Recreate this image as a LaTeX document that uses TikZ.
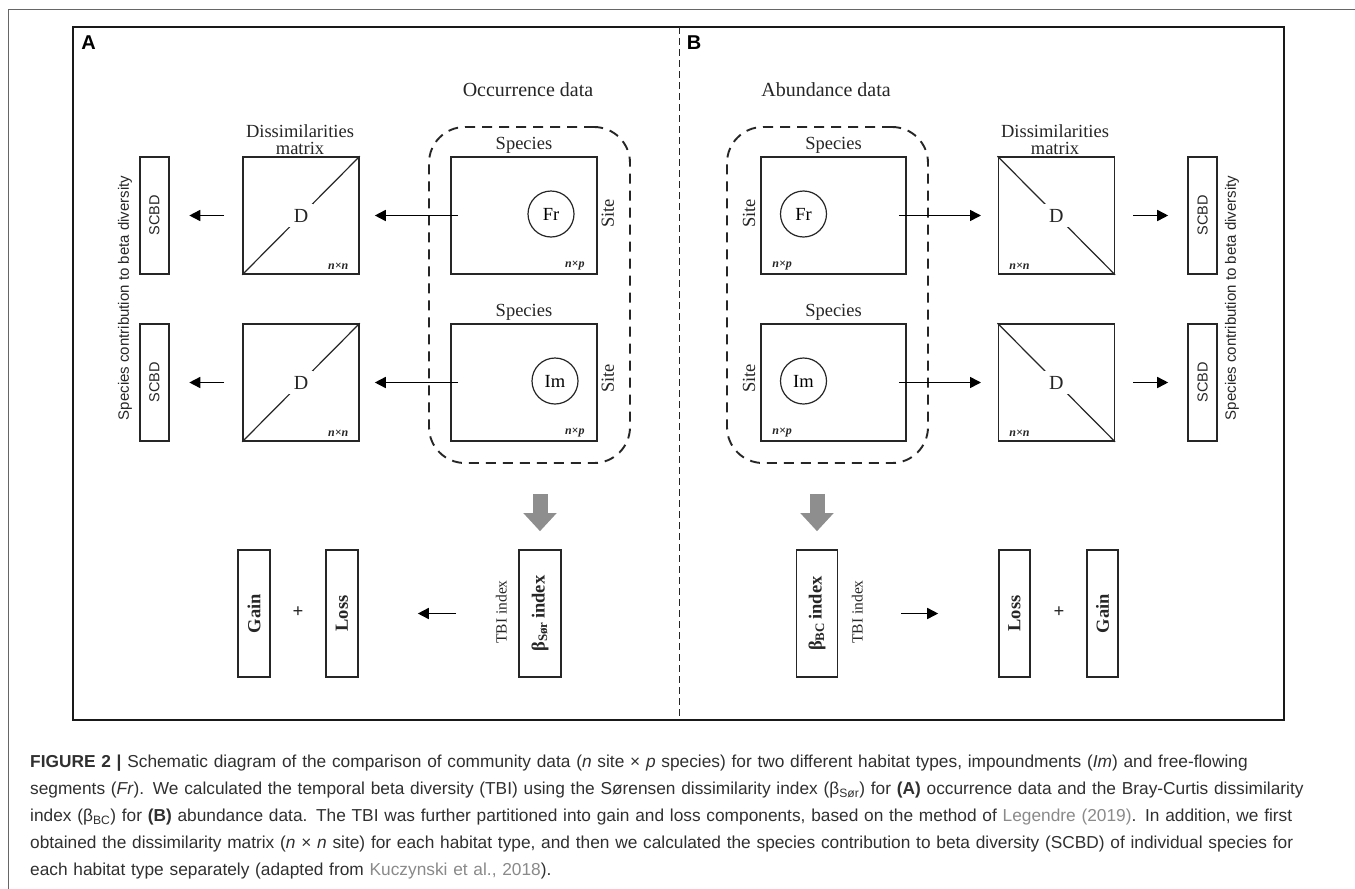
\documentclass[tikz,border=0pt]{standalone}
\usepackage{fontspec}
\setmainfont{Liberation Serif}
\setsansfont{Liberation Sans}
\usetikzlibrary{arrows.meta}
\definecolor{linec}{HTML}{262626}
\definecolor{greyarr}{HTML}{8E8E8E}
\definecolor{captxt}{HTML}{303030}
\definecolor{linkc}{HTML}{8A8A8A}
\begin{document}
\begin{tikzpicture}[x=1pt,y=-1pt,
  mbox/.style={draw=linec, line width=1.6pt, inner sep=0pt, fill=white},
  sqbox/.style={mbox, minimum width=116pt, minimum height=117pt},
  spbox/.style={mbox, minimum width=146pt, minimum height=117pt},
  scbox/.style={mbox, minimum width=29pt, minimum height=117pt},
  tallbox/.style={mbox, minimum height=127pt},
  dashbox/.style={draw=linec, line width=1.9pt, dash pattern=on 10pt off 7pt, rounded corners=36pt, minimum width=201pt, minimum height=336pt, inner sep=0pt},
  circ/.style={draw=linec, line width=1.2pt, circle, minimum size=46pt, inner sep=0pt, font=\fontsize{18.5}{20}\selectfont},
  lab/.style={inner sep=0pt, font=\fontsize{18.5}{20}\selectfont, text=linec},
  titlab/.style={lab, font=\fontsize{20}{20}\selectfont},
  rlab/.style={lab, rotate=90},
  blab/.style={inner sep=0pt, rotate=90, font=\fontsize{18.5}{20}\selectfont\bfseries, text=linec},
  tbi/.style={inner sep=0pt, rotate=90, font=\fontsize{15.5}{16}\selectfont, text=linec},
  sclab/.style={inner sep=0pt, rotate=90, font=\sffamily\fontsize{14.5}{15}\selectfont, text=linec},
  contrib/.style={inner sep=0pt, rotate=90, font=\sffamily\fontsize{15}{16}\selectfont, text=linec},
  dims/.style={inner sep=0pt, font=\fontsize{12}{12}\selectfont\bfseries\itshape, text=linec},
  dlab/.style={lab, fill=white, inner sep=5pt, font=\fontsize{20}{20}\selectfont},
  diag/.style={draw=linec, line width=1.2pt},
  arr/.style={draw=black, line width=1.6pt, -{Triangle[length=11pt,width=11pt]}},
  blockarr/.style={draw=greyarr, line width=15pt, -{Triangle[length=18pt,width=32pt]}},
  panel/.style={inner sep=0pt, font=\sffamily\bfseries\fontsize{20}{20}\selectfont},
  frame/.style={draw=black!90, line width=1.6pt},
  divider/.style={draw=black!85, line width=1pt, dash pattern=on 7pt off 4pt},
  outer/.style={draw=black!60, line width=1pt}
]
\useasboundingbox (0,0) rectangle (1355,889);
\fill[white] (0,0) rectangle (1355,889);
% frames
\draw[outer] (1355,9) -- (8,9) -- (8,889);
\draw[frame] (73,27) rectangle (1284,720);
\draw[divider] (679,27) -- (679,720);
\node[panel] (pA) at (88.6,43) {A};
\node[panel] (pB) at (694,43) {B};

% ================= Panel A =================
\node[titlab] (occ) at (528,90) {Occurrence data};
\node[dashbox] (oA) at (529.5,295) {};
\node[spbox] (sA1) at (524,215.5) {};
\node[spbox] (sA2) at (524,382.5) {};
\node[lab] (spA1) at ([yshift=11pt]sA1.north) {Species};
\node[lab] (spA2) at ([yshift=11pt]sA2.north) {Species};
\node[rlab] (siA1) at ([xshift=10pt,yshift=2pt]sA1.east) {Site};
\node[rlab] (siA2) at ([xshift=10pt,yshift=4pt]sA2.east) {Site};
\node[circ] (frA) at ([xshift=27pt,yshift=1.5pt]sA1.center) {Fr};
\node[circ] (imA) at ([xshift=31pt,yshift=1.5pt]sA2.center) {Im};
\node[dims] (npA1) at ([xshift=-23pt,yshift=9pt]sA1.south east) {n×p};
\node[dims] (npA2) at ([xshift=-23pt,yshift=9pt]sA2.south east) {n×p};

\node[lab, align=center, font=\fontsize{18.5}{17}\selectfont] (dmA) at (300,139.5) {Dissimilarities\\matrix};
\node[sqbox] (dA1) at (301,215.5) {};
\node[sqbox] (dA2) at (301,382.5) {};
\draw[diag] (dA1.south west) -- (dA1.north east);
\draw[diag] (dA2.south west) -- (dA2.north east);
\node[dlab] (DA1) at (dA1.center) {D};
\node[dlab] (DA2) at (dA2.center) {D};
\node[dims] (nnA1) at ([xshift=-21.5pt,yshift=9pt]dA1.south east) {n×n};
\node[dims] (nnA2) at ([xshift=-21.5pt,yshift=9pt]dA2.south east) {n×n};

\node[scbox] (cA1) at (154.5,215.5) {};
\node[scbox] (cA2) at (154.5,382.5) {};
\node[sclab] at (cA1.center) {SCBD};
\node[sclab] at (cA2.center) {SCBD};
\node[contrib] (ctA) at (125,298) {Species contribution to beta diversity};

\draw[arr, shorten <=-8pt, shorten >=15pt] (sA1.west) -- (dA1.east);
\draw[arr, shorten <=-8pt, shorten >=15pt] (sA2.west) -- (dA2.east);
\draw[arr, shorten <=18pt, shorten >=19.5pt] (dA1.west) -- (cA1.east);
\draw[arr, shorten <=18pt, shorten >=19.5pt] (dA2.west) -- (cA2.east);

\node[tallbox, minimum width=42pt] (bA) at (540,613.5) {};
\node[blab] at (bA.center) {β\textsubscript{Sør}\,index};
\node[tbi] (tA) at ([xshift=-17pt,yshift=1.5pt]bA.west) {TBI index};
\node[tallbox, minimum width=32pt] (gA) at (254,613.5) {};
\node[tallbox, minimum width=32pt] (lA) at (342,613.5) {};
\node[blab] at (gA.center) {Gain};
\node[blab] at (lA.center) {Loss};
\node[lab, font=\fontsize{19}{19}\selectfont\bfseries] (plA) at (298,612) {+};
\draw[arr, shorten <=62pt, shorten >=59pt] (bA.west) -- (lA.east);
\draw[blockarr, shorten <=30pt, shorten >=18pt] (oA.south -| bA.north) -- (bA.north);

% ================= Panel B =================
\node[titlab] (abu) at (826,90) {Abundance data};
\node[dashbox] (oB) at (827.5,295) {};
\node[spbox, minimum width=145pt] (sB1) at (833.5,215.5) {};
\node[spbox, minimum width=145pt] (sB2) at (833.5,382.5) {};
\node[lab] (spB1) at ([yshift=11pt]sB1.north) {Species};
\node[lab] (spB2) at ([yshift=11pt]sB2.north) {Species};
\node[rlab] (siB1) at ([xshift=-11pt,yshift=2pt]sB1.west) {Site};
\node[rlab] (siB2) at ([xshift=-11pt,yshift=4pt]sB2.west) {Site};
\node[circ] (frB) at ([xshift=-30pt,yshift=1.5pt]sB1.center) {Fr};
\node[circ] (imB) at ([xshift=-30pt,yshift=1.5pt]sB2.center) {Im};
\node[dims] (npB1) at ([xshift=22pt,yshift=9pt]sB1.south west) {n×p};
\node[dims] (npB2) at ([xshift=22pt,yshift=9pt]sB2.south west) {n×p};

\node[lab, align=center, font=\fontsize{18.5}{17}\selectfont] (dmB) at (1055,139.5) {Dissimilarities\\matrix};
\node[sqbox] (dB1) at (1056.3,215.5) {};
\node[sqbox] (dB2) at (1056.3,382.5) {};
\draw[diag] (dB1.north west) -- (dB1.south east);
\draw[diag] (dB2.north west) -- (dB2.south east);
\node[dlab] (DB1) at (dB1.center) {D};
\node[dlab] (DB2) at (dB2.center) {D};
\node[dims] (nnB1) at ([xshift=22pt,yshift=9pt]dB1.south west) {n×n};
\node[dims] (nnB2) at ([xshift=22pt,yshift=9pt]dB2.south west) {n×n};

\node[scbox] (cB1) at (1202.5,215.5) {};
\node[scbox] (cB2) at (1202.5,382.5) {};
\node[sclab] at (cB1.center) {SCBD};
\node[sclab] at (cB2.center) {SCBD};
\node[contrib] (ctB) at (1232,298) {Species contribution to beta diversity};

\draw[arr, shorten <=-8pt, shorten >=16.5pt] (sB1.east) -- (dB1.west);
\draw[arr, shorten <=-8pt, shorten >=16.5pt] (sB2.east) -- (dB2.west);
\draw[arr, shorten <=18pt, shorten >=19pt] (dB1.east) -- (cB1.west);
\draw[arr, shorten <=18pt, shorten >=19pt] (dB2.east) -- (cB2.west);

\node[tallbox, minimum width=41pt] (bB) at (817,613.5) {};
\node[blab] at (bB.center) {β\textsubscript{BC}\,index};
\node[tbi] (tB) at ([xshift=19pt,yshift=1.5pt]bB.east) {TBI index};
\node[tallbox, minimum width=31pt] (lB) at (1014.5,613.5) {};
\node[tallbox, minimum width=31pt] (gB) at (1102.5,613.5) {};
\node[blab] at (lB.center) {Loss};
\node[blab] at (gB.center) {Gain};
\node[lab, font=\fontsize{19}{19}\selectfont\bfseries] (plB) at (1059,612) {+};
\draw[arr, shorten <=63pt, shorten >=60pt] (bB.east) -- (lB.west);
\draw[blockarr, shorten <=30pt, shorten >=18pt] (oB.south -| bB.north) -- (bB.north);

% ================= Caption =================
\node[anchor=north west, inner sep=0pt, text width=1320pt, align=left, text=captxt,
      font=\sffamily\fontsize{17.3}{27}\selectfont] (cap) at (30,755) {%
\mbox{\textbf{FIGURE 2 |} Schematic diagram of the comparison of community data (\textit{n} site × \textit{p} species) for two different habitat types, impoundments (\textit{Im}) and free-flowing}\\
\mbox{segments (\textit{Fr}). We calculated the temporal beta diversity (TBI) using the Sørensen dissimilarity index (β\textsubscript{Sør}) for \textbf{(A)} occurrence data and the Bray-Curtis dissimilarity}\\
\mbox{index (β\textsubscript{BC}) for \textbf{(B)} abundance data. The TBI was further partitioned into gain and loss components, based on the method of \textcolor{linkc}{Legendre (2019)}. In addition, we first}\\
\mbox{obtained the dissimilarity matrix (\textit{n} × \textit{n} site) for each habitat type, and then we calculated the species contribution to beta diversity (SCBD) of individual species for}\\
\mbox{each habitat type separately (adapted from \textcolor{linkc}{Kuczynski et al., 2018}).}};
\end{tikzpicture}
\end{document}
